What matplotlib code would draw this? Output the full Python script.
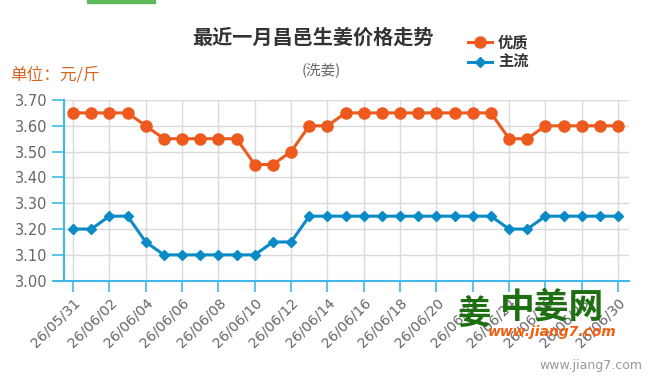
import matplotlib
matplotlib.use("Agg")
import matplotlib.pyplot as plt
from matplotlib.patches import Rectangle
from matplotlib.lines import Line2D

plt.rcParams['font.family'] = ['Noto Sans CJK SC', 'DejaVu Sans']

dates = ["26/05/31"] + [f"26/06/{d:02d}" for d in range(1, 31)]
youzhi = [3.65, 3.65, 3.65, 3.65, 3.60, 3.55, 3.55, 3.55, 3.55, 3.55,
          3.45, 3.45, 3.50, 3.60, 3.60, 3.65, 3.65, 3.65, 3.65, 3.65,
          3.65, 3.65, 3.65, 3.65, 3.55, 3.55, 3.60, 3.60, 3.60, 3.60, 3.60]
zhuliu = [3.20, 3.20, 3.25, 3.25, 3.15, 3.10, 3.10, 3.10, 3.10, 3.10,
          3.10, 3.15, 3.15, 3.25, 3.25, 3.25, 3.25, 3.25, 3.25, 3.25,
          3.25, 3.25, 3.25, 3.25, 3.20, 3.20, 3.25, 3.25, 3.25, 3.25, 3.25]
yticks = [3.00, 3.10, 3.20, 3.30, 3.40, 3.50, 3.60, 3.70]

ORANGE = '#EE5A1E'
BLUE = '#0A8BC6'
AXIS = '#41B8E6'
GRID = '#DADADA'
TXT = '#666666'

fig = plt.figure(figsize=(6.5, 3.81), dpi=100)
ax = fig.add_axes([64/650, 1-280.7/381, (629-64)/650, (280.7-100)/381])

x = list(range(len(dates)))
ax.plot(x, youzhi, color=ORANGE, lw=2.2, marker='o', ms=8, zorder=4, clip_on=False)
ax.plot(x, zhuliu, color=BLUE, lw=2.2, marker='D', ms=5.5, zorder=4, clip_on=False)

ax.set_xlim(-0.5, 30.6)
ax.set_ylim(3.0, 3.7)
ax.set_yticks(yticks)
ax.set_yticklabels([f"{v:.2f}" for v in yticks], fontsize=10.5, color=TXT, family='DejaVu Sans')
xt = x[::2]
ax.set_xticks(xt)
ax.set_xticklabels(dates[::2], rotation=45, ha='right', va='top', rotation_mode='anchor',
                   fontsize=10.2, color=TXT, family='DejaVu Sans')
ax.tick_params(axis='y', length=9, width=1.2, color=AXIS, pad=3)
ax.tick_params(axis='x', length=8, width=1.2, color=AXIS, pad=3)
ax.grid(True, color=GRID, lw=1.0)
ax.set_axisbelow(True)
for s in ['top', 'right']:
    ax.spines[s].set_visible(False)
ax.spines['left'].set_color(AXIS)
ax.spines['left'].set_linewidth(1.5)
ax.spines['bottom'].set_color(AXIS)
ax.spines['bottom'].set_linewidth(1.5)
ax.spines['bottom'].set_bounds(-1.05, 30.6)

fig.text(313/650, 1-37/381, "最近一月昌邑生姜价格走势", fontsize=14.5, fontweight='bold',
         color='#333333', ha='center', va='center')
fig.text(321/650, 1-70/381, "(洗姜)", fontsize=10.5, color=TXT, ha='center', va='center')
fig.text(10/650, 1-75/381, "单位：元/斤", fontsize=12, color='#D9661F', ha='left', va='center')

# legend
for yy, col, mk, ms, lab in [(42, ORANGE, 'o', 8, '优质'), (62, BLUE, 'D', 5.5, '主流')]:
    fig.add_artist(Line2D([468/650, 492/650], [1-yy/381]*2, color=col, lw=2.2,
                          marker=None, transform=fig.transFigure))
    fig.add_artist(Line2D([480/650], [1-yy/381], color=col, marker=mk, ms=ms,
                          transform=fig.transFigure))
    fig.text(498/650, 1-yy/381, lab, fontsize=11, fontweight='bold', color='#333333',
             ha='left', va='center')

# top green bar
fig.add_artist(Rectangle((87/650, 1-3/381), 68/650, 3/381, color='#5DB85C',
                         transform=fig.transFigure))

# watermark logo
fig.text(474/650, 1-314/381, "姜", fontsize=24, fontweight='bold', color='#1E6E12',
         ha='center', va='center', zorder=10)
fig.text(552/650, 1-307/381, "中姜网", fontsize=25, fontweight='bold', color='#1E6E12',
         ha='center', va='center', zorder=10)
fig.text(552/650, 1-332/381, "www.jiang7.com", fontsize=10, fontweight='bold', style='italic',
         color='#F06010', ha='center', va='center', family='DejaVu Sans', zorder=10)
fig.text(642/650, 1-366/381, "www.jiang7.com", fontsize=9, color='#999999',
         ha='right', va='center', family='DejaVu Sans')

fig.savefig("out.png", dpi=100)
